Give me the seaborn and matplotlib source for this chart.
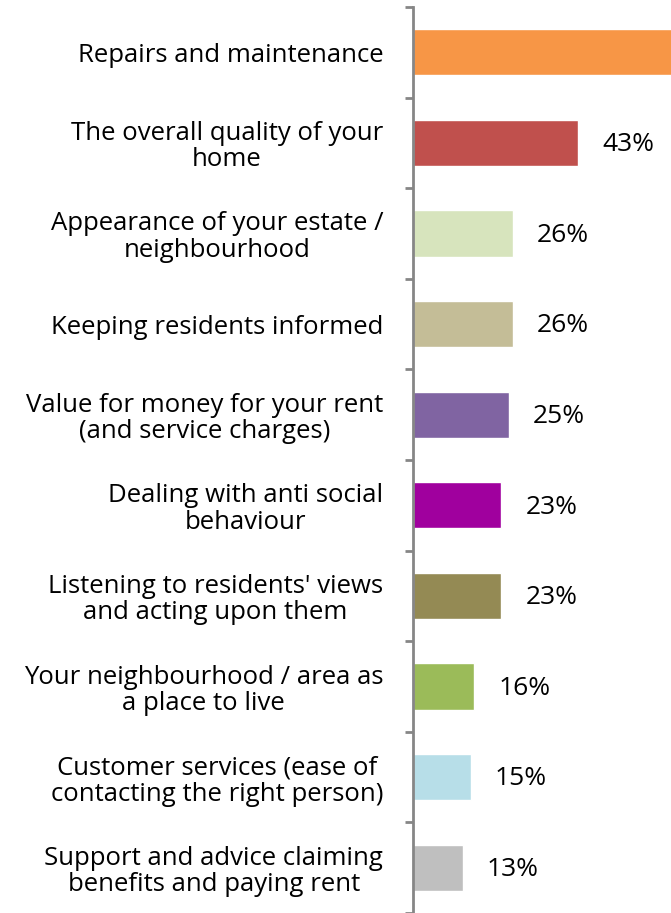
import matplotlib
matplotlib.use("Agg")
import matplotlib.pyplot as plt
import seaborn as sns
import pandas as pd
from matplotlib.ticker import FixedLocator

categories = [
    "Repairs and maintenance",
    "The overall quality of your\nhome",
    "Appearance of your estate /\nneighbourhood",
    "Keeping residents informed",
    "Value for money for your rent\n(and service charges)",
    "Dealing with anti social\nbehaviour",
    "Listening to residents' views\nand acting upon them",
    "Your neighbourhood / area as\na place to live",
    "Customer services (ease of\ncontacting the right person)",
    "Support and advice claiming\nbenefits and paying rent",
]
values = [68, 43, 26, 26, 25, 23, 23, 16, 15, 13]
colors = ["#F79646", "#C0504D", "#D7E4BD", "#C4BD97", "#8064A2",
          "#A0009E", "#948A54", "#9BBB59", "#B7DEE8", "#BFBFBF"]

df = pd.DataFrame({"item": categories, "pct": values})

sns.set_style("white")
plt.rcParams["font.family"] = ["Open Sans", "DejaVu Sans"]

fig = plt.figure(figsize=(6.71, 9.13), dpi=100)
ax = fig.add_axes([413 / 671, 0, 1 - 413 / 671, 1 - 7 / 913])

sns.barplot(data=df, x="pct", y="item", hue="item", palette=colors,
            legend=False, width=0.51, ax=ax, saturation=1)

px_per_pct = 3.837
xmax = (671 - 413) / px_per_pct
ax.set_xlim(0, xmax)
ax.set_ylim(len(categories) - 0.5, -0.5)
ax.set_xlabel("")
ax.set_ylabel("")
ax.set_xticks([])

for s in ["top", "right", "bottom"]:
    ax.spines[s].set_visible(False)
ax.spines["left"].set_color("#868686")
ax.spines["left"].set_linewidth(2)

ax.yaxis.set_minor_locator(FixedLocator([i - 0.5 for i in range(len(categories) + 1)]))
ax.tick_params(axis="y", which="minor", length=6, width=2, color="#868686", left=True)
ax.tick_params(axis="y", which="major", length=0, pad=21.5, labelsize=18.5, labelcolor="#000000")
for t in ax.get_yticklabels():
    t.set_multialignment("center")
    t.set_linespacing(1.08)

# value labels for bars that end inside the plotting area
for i, v in enumerate(values):
    x = v + 24 / px_per_pct
    if x < xmax:
        ax.text(x, i + 0.02, f"{v}%", va="center", ha="left", fontsize=19,
                color="#000000")

fig.savefig("out.png", dpi=100)
